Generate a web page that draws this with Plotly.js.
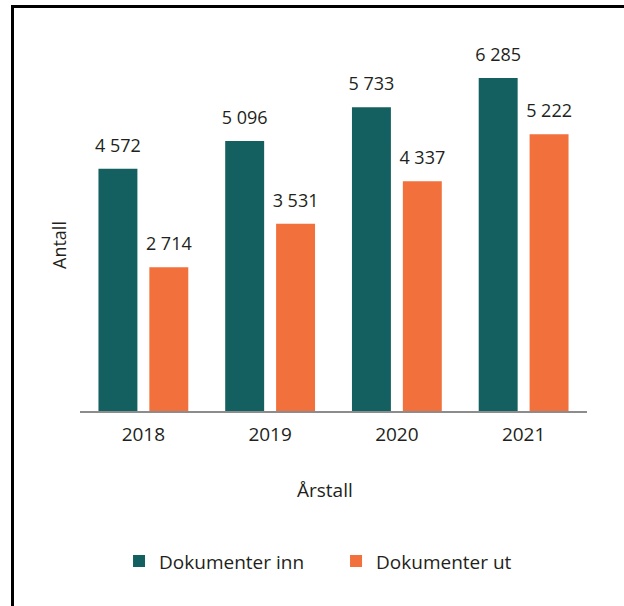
<!DOCTYPE html>
<html>
<head>
<meta charset="utf-8">
<script src="https://cdn.plot.ly/plotly-3.0.1.min.js"></script>
<style>
  html, body { margin: 0; padding: 0; background: #fff; }
  #wrap { position: relative; width: 624px; height: 606px; }
  #chart { position: absolute; left: 0; top: 0; width: 624px; height: 606px; }
  #frame { position: absolute; left: 11px; top: 5px; width: 640px; height: 640px;
           border-left: 3px solid #000; border-top: 3px solid #000; pointer-events: none; }
</style>
</head>
<body>
<div id="wrap">
  <div id="chart"></div>
  <div id="frame"></div>
</div>
<script>
const years = ['2018', '2019', '2020', '2021'];
const dokumenterInn = [4572, 5096, 5733, 6285];
const dokumenterUt = [2714, 3531, 4337, 5222];
const seriesNames = ['Dokumenter inn', 'Dokumenter ut'];
const seriesColors = ['#145f5f', '#f2703b'];
const xTitle = 'Årstall';
const yTitle = 'Antall';

const FONT = '"Open Sans", "Noto Sans", sans-serif';
const TXT = '#231f20';

const seriesValues = [dokumenterInn, dokumenterUt];
const traces = [];
seriesValues.forEach((vals, i) => {
  traces.push({
    type: 'bar', name: seriesNames[i], x: years, y: vals,
    offsetgroup: String(i), legendgroup: String(i),
    marker: { color: seriesColors[i] },
    hoverinfo: 'skip'
  });
});
seriesValues.forEach((vals, i) => {
  traces.push({
    type: 'scatter', mode: 'markers+text', x: years, y: vals,
    offsetgroup: String(i), legendgroup: String(i), showlegend: false,
    marker: { size: 18, opacity: 0, color: seriesColors[i] },
    texttemplate: '%{y:,}', textposition: 'top center', cliponaxis: false,
    textfont: { family: FONT, size: 18, color: TXT },
    hoverinfo: 'skip'
  });
});

const layout = {
  width: 624, height: 606,
  margin: { l: 80, r: 37, t: 40, b: 195 },
  paper_bgcolor: '#ffffff', plot_bgcolor: '#ffffff',
  separators: ', ',
  font: { family: FONT, size: 18, color: TXT },
  barmode: 'group', bargap: 0.197, bargroupgap: 0.235,
  scattermode: 'group', scattergap: 0.197,
  showlegend: true,
  legend: {
    orientation: 'h', x: 0.505, xanchor: 'center', y: -0.405, yanchor: 'middle',
    font: { family: FONT, size: 19, color: TXT },
    entrywidth: 172, itemclick: false, itemdoubleclick: false
  },
  xaxis: {
    type: 'category', range: [-0.5, 3.5],
    showline: true, linecolor: '#8c8c8c', linewidth: 2,
    ticks: '', showgrid: false, zeroline: false,
    tickfont: { family: FONT, size: 19, color: TXT },
    ticklabelstandoff: 5,
    fixedrange: true
  },
  yaxis: {
    range: [0, 7000], showline: false, showgrid: false, zeroline: false,
    showticklabels: false, ticks: '', fixedrange: true
  },
  annotations: [
    { text: xTitle, xref: 'paper', yref: 'paper', x: (325 - 80) / 507, y: -(490 - 411) / 371,
      xanchor: 'center', yanchor: 'middle', showarrow: false,
      font: { family: FONT, size: 19, color: TXT } },
    { text: yTitle, xref: 'paper', yref: 'paper', x: (59 - 80) / 507, y: (411 - 245) / 371,
      xanchor: 'center', yanchor: 'middle', showarrow: false, textangle: -90,
      font: { family: FONT, size: 18, color: TXT } }
  ]
};

Plotly.newPlot('chart', traces, layout, { displayModeBar: false, staticPlot: true });
</script>
</body>
</html>
